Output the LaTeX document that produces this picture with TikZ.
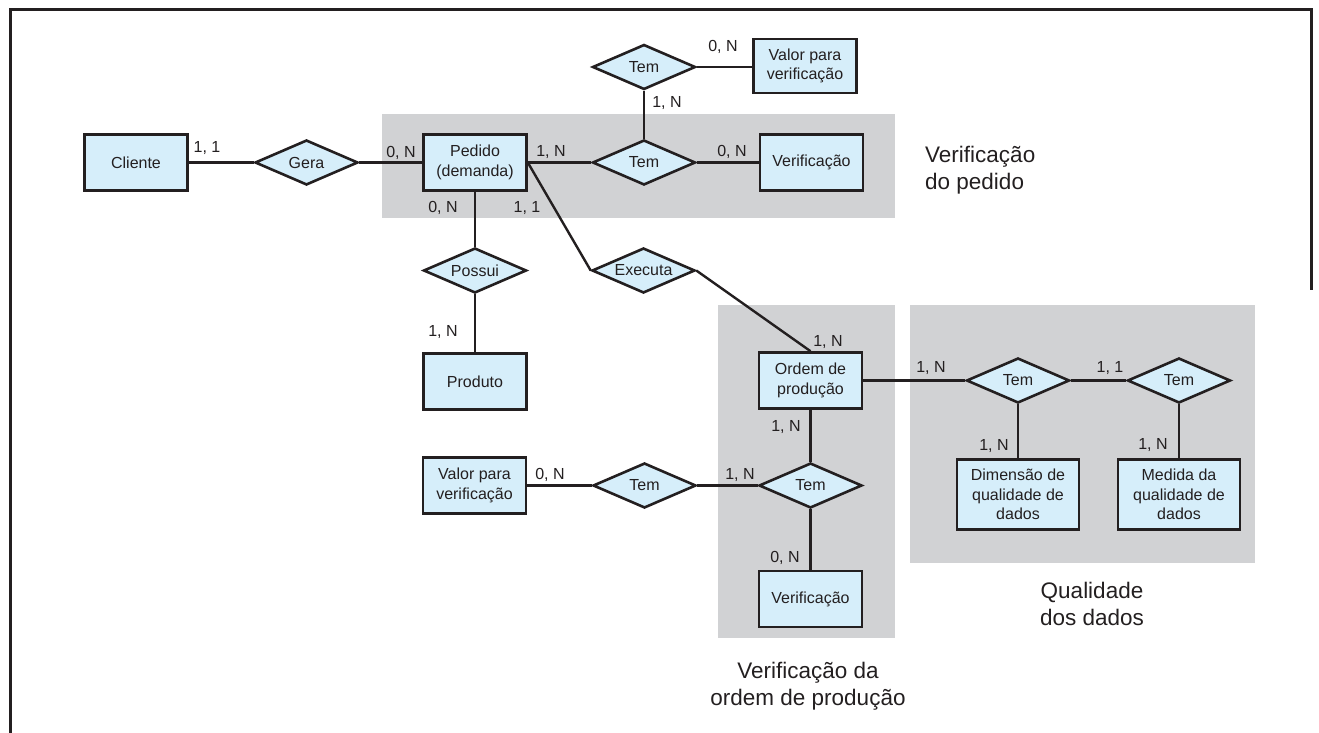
\documentclass[tikz,border=0pt]{standalone}
\usepackage{fontspec}
\setmainfont{Liberation Sans}
\usetikzlibrary{shapes.geometric}
\definecolor{boxfill}{RGB}{214,238,250}
\definecolor{panel}{RGB}{209,210,212}
\definecolor{ink}{RGB}{35,31,32}
\begin{document}
\begin{tikzpicture}[x=1pt,y=-1pt,
 entity/.style={draw=ink,fill=boxfill,line width=2.6pt,minimum width=103pt,minimum height=56pt,inner sep=0pt,align=center,font=\fontsize{16}{19.5}\selectfont,text=ink},
 rel/.style={draw=ink,fill=boxfill,diamond,line width=2.6pt,minimum width=103pt,minimum height=45pt,inner sep=0pt,aspect=2.2,font=\fontsize{16}{19.5}\selectfont,text=ink},
 card/.style={inner sep=0pt,font=\fontsize{16}{19}\selectfont,text=ink},
 big/.style={inner sep=0pt,font=\fontsize{22.5}{27}\selectfont,text=ink},
 link/.style={draw=ink,line width=2.4pt},
 panelbox/.style={fill=panel,draw=none}]
\useasboundingbox (0,0) rectangle (1319,733);
% frame
\draw[ink,line width=3pt] (10,733) -- (10,10) -- (1311,10) -- (1311,290);
% panels
\fill[panelbox] (382,114) rectangle (895,218);
\fill[panelbox] (718,305) rectangle (895,638);
\fill[panelbox] (910,305) rectangle (1255,563);
% entities and relationships
\node[entity] (cliente) at (136,162.5) {Cliente};
\node[rel] (gera) at (306.5,162.5) {Gera};
\node[entity] (pedido) at (475,162.5) {Pedido\\(demanda)};
\node[rel] (temA) at (644,67) {Tem};
\node[entity,minimum height=54pt] (valorA) at (805,66) {Valor para\\verificação};
\node[rel] (temB) at (644,162.5) {Tem};
\node[entity] (verifA) at (811.5,162.5) {Verificação};
\node[rel] (possui) at (475,270.5) {Possui};
\node[entity] (produto) at (475,381.5) {Produto};
\node[rel] (executa) at (643.5,270.5) {Executa};
\node[entity] (ordem) at (810.5,380.5) {Ordem de\\produção};
\node[rel] (temE) at (1018,380.5) {Tem};
\node[rel] (temF) at (1179,380.5) {Tem};
\node[entity,minimum width=122pt,minimum height=70pt] (dim) at (1018,494.5) {Dimensão de\\qualidade de\\dados};
\node[entity,minimum width=122pt,minimum height=70pt] (medida) at (1179,494.5) {Medida da\\qualidade de\\dados};
\node[rel] (temC) at (810.5,485.5) {Tem};
\node[rel] (temD) at (644.5,485.5) {Tem};
\node[entity] (valorB) at (474.5,485.5) {Valor para\\verificação};
\node[entity] (verifB) at (810.5,599) {Verificação};
% connectors
\draw[link] (cliente) -- (gera);
\draw[link] (gera) -- (pedido);
\draw[link] (pedido) -- (temB);
\draw[link] (temB) -- (verifA);
\draw[link] (temB) -- (temA);
\draw[link] (temA.east) -- (valorA.west |- temA.east);
\draw[link] (pedido) -- (possui);
\draw[link] (possui) -- (produto);
\draw[link] (pedido.east) -- (executa.west);
\draw[link] (executa.east) -- (ordem.north);
\draw[link] (ordem) -- (temE);
\draw[link] (temE) -- (temF);
\draw[link] (temE) -- (dim);
\draw[link] (temF) -- (medida);
\draw[link] (ordem) -- (temC);
\draw[link] (temC) -- (verifB);
\draw[link] (temC) -- (temD);
\draw[link] (temD) -- (valorB);
% cardinalities
\node[card] (c1) at (207,148) {1, 1};
\node[card] (c2) at (401,153) {0, N};
\node[card] (c3) at (551,152) {1, N};
\node[card] (c4) at (732,152) {0, N};
\node[card] (c5) at (723,47) {0, N};
\node[card] (c6) at (667,103) {1, N};
\node[card] (c7) at (443,208) {0, N};
\node[card] (c8) at (527,208) {1, 1};
\node[card] (c9) at (443,332) {1, N};
\node[card] (c10) at (828,342) {1, N};
\node[card] (c11) at (931,368) {1, N};
\node[card] (c12) at (1110,368) {1, 1};
\node[card] (c13) at (994,446) {1, N};
\node[card] (c14) at (1153,445) {1, N};
\node[card] (c15) at (786,427) {1, N};
\node[card] (c16) at (550,475) {0, N};
\node[card] (c17) at (740,475) {1, N};
\node[card] (c18) at (785,558) {0, N};
% group titles
\node[big,anchor=west,align=left] (g1) at (925,170) {Verificação\\do pedido};
\node[big,align=center] (g2) at (1092,604) {Qualidade\\dos dados};
\node[big,align=center] (g3) at (808,686) {Verificação da\\ordem de produção};
\end{tikzpicture}
\end{document}
